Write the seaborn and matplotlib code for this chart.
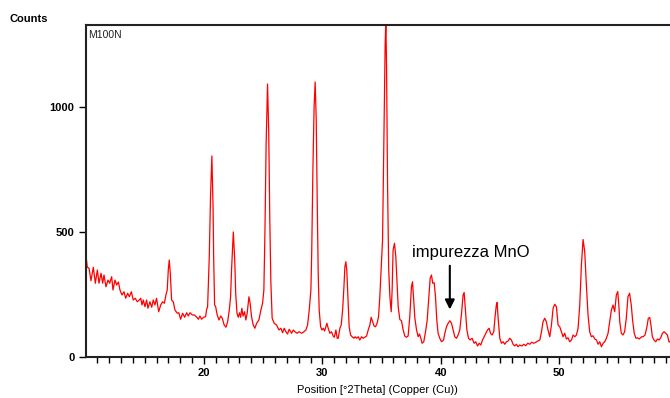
import matplotlib
matplotlib.use("Agg")
import matplotlib.pyplot as plt
import seaborn as sns
import pandas as pd

# Powder diffraction scan of sample M100N (Cu K-alpha)
two_theta = [
    10.04, 10.15, 10.30, 10.46, 10.66, 10.83, 11.00, 11.14, 11.31, 11.45,
    11.56, 11.73, 11.90, 12.04, 12.21, 12.32, 12.49, 12.63, 12.78, 12.91,
    13.08, 13.25, 13.39, 13.56, 13.70, 13.87, 14.03, 14.20, 14.37, 14.54,
    14.66, 14.77, 14.88, 15.02, 15.16, 15.27, 15.44, 15.59, 15.72, 15.86,
    16.00, 16.18, 16.35, 16.51, 16.66, 16.79, 16.90, 16.99, 17.07, 17.16,
    17.27, 17.41, 17.55, 17.75, 17.88, 18.03, 18.20, 18.37, 18.54, 18.68,
    18.82, 19.02, 19.19, 19.36, 19.53, 19.66, 19.80, 19.97, 20.14, 20.23,
    20.31, 20.45, 20.56, 20.67, 20.77, 20.82, 20.90, 20.99, 21.12, 21.27,
    21.41, 21.55, 21.71, 21.86, 22.00, 22.14, 22.25, 22.33, 22.48, 22.60,
    22.68, 22.79, 22.90, 23.00, 23.10, 23.20, 23.30, 23.43, 23.54, 23.65,
    23.80, 23.90, 24.02, 24.16, 24.30, 24.45, 24.64, 24.81, 24.95, 25.06,
    25.15, 25.25, 25.37, 25.47, 25.56, 25.65, 25.76, 25.93, 26.13, 26.33,
    26.50, 26.64, 26.78, 26.92, 27.06, 27.20, 27.40, 27.54, 27.68, 27.87,
    28.03, 28.25, 28.44, 28.61, 28.75, 28.89, 29.03, 29.10, 29.20, 29.30,
    29.39, 29.48, 29.57, 29.65, 29.73, 29.85, 29.96, 30.07, 30.19, 30.29,
    30.38, 30.49, 30.63, 30.77, 30.91, 31.01, 31.14, 31.25, 31.34, 31.48,
    31.59, 31.71, 31.82, 31.90, 31.98, 32.06, 32.15, 32.26, 32.38, 32.51,
    32.66, 32.77, 32.89, 33.03, 33.16, 33.30, 33.44, 33.58, 33.73, 33.87,
    34.01, 34.12, 34.24, 34.36, 34.49, 34.62, 34.74, 34.85, 34.96, 35.08,
    35.20, 35.30, 35.36, 35.42, 35.50, 35.60, 35.70, 35.81, 35.89, 35.97,
    36.09, 36.20, 36.28, 36.40, 36.54, 36.68, 36.82, 36.96, 37.10, 37.24,
    37.38, 37.52, 37.61, 37.69, 37.81, 37.95, 38.09, 38.20, 38.31, 38.42,
    38.56, 38.71, 38.85, 38.99, 39.10, 39.21, 39.32, 39.44, 39.55, 39.66,
    39.77, 39.91, 40.06, 40.23, 40.34, 40.48, 40.62, 40.76, 40.90, 41.04,
    41.18, 41.32, 41.46, 41.60, 41.75, 41.88, 41.97, 42.08, 42.20, 42.34,
    42.47, 42.64, 42.81, 42.95, 43.10, 43.24, 43.38, 43.52, 43.66, 43.80,
    43.94, 44.08, 44.19, 44.33, 44.47, 44.58, 44.68, 44.75, 44.84, 44.98,
    45.12, 45.26, 45.40, 45.54, 45.68, 45.82, 45.96, 46.10, 46.24, 46.38,
    46.52, 46.66, 46.84, 47.00, 47.17, 47.34, 47.51, 47.68, 47.85, 48.02,
    48.19, 48.36, 48.50, 48.63, 48.77, 48.91, 49.05, 49.20, 49.34, 49.48,
    49.62, 49.76, 49.90, 50.04, 50.18, 50.32, 50.46, 50.60, 50.74, 50.88,
    51.03, 51.17, 51.31, 51.45, 51.59, 51.73, 51.87, 52.01, 52.15, 52.29,
    52.43, 52.57, 52.71, 52.85, 53.00, 53.14, 53.28, 53.42, 53.56, 53.70,
    53.84, 53.98, 54.12, 54.26, 54.40, 54.54, 54.68, 54.82, 54.94, 55.03,
    55.11, 55.24, 55.38, 55.52, 55.66, 55.80, 55.94, 56.08, 56.19, 56.33,
    56.47, 56.61, 56.75, 56.96, 57.08, 57.24, 57.38, 57.52, 57.64, 57.74,
    57.86, 58.00, 58.15, 58.29, 58.43, 58.57, 58.71, 58.85, 58.99, 59.13,
    59.27, 59.40,
]
counts = [
    408, 359, 355, 305, 359, 295, 348, 295, 335, 295,
    328, 281, 308, 295, 321, 268, 308, 288, 300, 268,
    248, 261, 235, 255, 241, 261, 228, 235, 221, 228,
    235, 208, 228, 201, 228, 195, 221, 199, 228, 208,
    235, 181, 208, 221, 215, 248, 268, 348, 388, 335,
    228, 221, 188, 175, 177, 151, 175, 159, 177, 164,
    177, 168, 168, 161, 151, 164, 151, 159, 161, 191,
    201, 400, 650, 804, 600, 400, 208, 201, 168, 148,
    164, 155, 128, 119, 141, 188, 241, 348, 500, 388,
    255, 175, 159, 177, 159, 195, 164, 181, 148, 175,
    241, 215, 161, 128, 115, 135, 148, 188, 215, 268,
    500, 850, 1092, 900, 550, 300, 155, 135, 128, 108,
    115, 97, 115, 101, 92, 111, 95, 108, 101, 95,
    101, 95, 101, 108, 128, 188, 268, 420, 750, 1000,
    1100, 950, 600, 330, 188, 121, 108, 115, 104, 121,
    135, 115, 95, 101, 84, 79, 108, 75, 75, 115,
    128, 188, 281, 361, 381, 348, 241, 121, 88, 81,
    75, 81, 75, 81, 68, 81, 75, 79, 84, 108,
    128, 159, 141, 124, 121, 135, 161, 241, 348, 468,
    900, 1250, 1345, 1150, 700, 350, 241, 181, 268, 428,
    455, 401, 320, 201, 150, 145, 108, 84, 79, 84,
    161, 281, 301, 241, 155, 108, 81, 92, 75, 55,
    61, 101, 148, 241, 315, 328, 295, 297, 241, 148,
    95, 75, 61, 68, 95, 121, 135, 145, 135, 108,
    81, 75, 88, 108, 175, 248, 258, 188, 108, 75,
    68, 75, 55, 61, 44, 55, 48, 68, 81, 95,
    108, 115, 95, 88, 101, 161, 205, 218, 155, 75,
    55, 61, 51, 61, 64, 75, 68, 51, 44, 51,
    41, 48, 44, 51, 45, 55, 51, 59, 55, 59,
    64, 68, 101, 141, 155, 141, 108, 81, 128, 195,
    211, 201, 128, 121, 101, 81, 95, 72, 77, 61,
    68, 88, 81, 88, 115, 208, 368, 470, 421, 288,
    168, 101, 81, 85, 72, 68, 51, 61, 41, 55,
    61, 75, 95, 141, 188, 208, 181, 248, 262, 208,
    141, 95, 88, 101, 155, 241, 255, 208, 148, 95,
    75, 77, 72, 81, 81, 88, 115, 155, 158, 128,
    81, 68, 61, 72, 68, 77, 95, 101, 95, 88,
    60, 62,
]

x_major = [20, 30, 40, 50]
x_minor = list(range(11, 60))
y_major = [0, 500, 1000]

sample_name = "M100N"
impurity_label = "impurezza MnO"
impurity_pos = 40.76

sns.set_style("white")
plt.rcParams["font.family"] = ["Liberation Sans", "DejaVu Sans"]
plt.rcParams["text.color"] = "black"
plt.rcParams["axes.labelcolor"] = "black"
plt.rcParams["xtick.color"] = "black"
plt.rcParams["ytick.color"] = "black"

W, H = 670, 398
fig = plt.figure(figsize=(W / 100, H / 100), dpi=100)
left, right, top, bottom = 85.5, 670, 25, 357
ax = fig.add_axes([left / W, 1 - bottom / H, (right - left) / W, (bottom - top) / H])

df = pd.DataFrame({"two_theta": two_theta, "counts": counts})
sns.lineplot(data=df, x="two_theta", y="counts", color="#ff0000",
             linewidth=0.9, ax=ax, estimator=None, sort=False)

ax.set_xlim(10, 59.35)
ax.set_ylim(0, 1328)

ax.set_xticks(x_major)
ax.set_xticks(x_minor, minor=True)
ax.set_yticks(y_major)
ax.set_xticklabels([str(v) for v in x_major], fontsize=8, fontweight="bold")
ax.set_yticklabels([str(v) for v in y_major], fontsize=8, fontweight="bold")
ax.tick_params(axis="both", which="major", direction="out", length=5,
               width=1.0, color="black", labelcolor="black", pad=3,
               bottom=True, left=True)
ax.tick_params(axis="x", which="minor", direction="out", length=4,
               width=1.0, color="black", bottom=True)

for side in ("left", "top", "bottom"):
    ax.spines[side].set_visible(True)
    ax.spines[side].set_color("#222222")
    ax.spines[side].set_linewidth(1.5)
ax.spines["right"].set_visible(False)

ax.set_xlabel("Position [°2Theta] (Copper (Cu))", fontsize=8, labelpad=5,
              color="black")
ax.set_ylabel("")

fig.text(10 / W, 1 - 19 / H, "Counts", fontsize=8, fontweight="bold",
         ha="left", va="center", color="black")
ax.text(0.005, 0.985, sample_name, transform=ax.transAxes, fontsize=7.5,
        ha="left", va="top", color="#222222")

ax.text(37.55, 420, impurity_label, fontsize=12, ha="left", va="center",
        color="black")
ax.annotate("", xy=(impurity_pos, 190), xytext=(impurity_pos, 365),
            arrowprops=dict(arrowstyle="-|>", color="black", lw=1.5,
                            mutation_scale=14, shrinkA=0, shrinkB=0))

fig.savefig("out.png", dpi=100)
